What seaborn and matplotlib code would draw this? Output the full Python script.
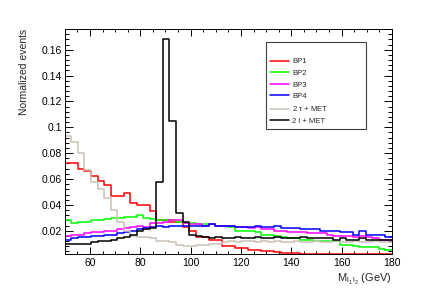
import numpy as np
import pandas as pd
import seaborn as sns
import matplotlib
matplotlib.use('Agg')
import matplotlib.pyplot as plt
from matplotlib.lines import Line2D
from matplotlib.ticker import MultipleLocator

# 50 bins between 50 and 180 GeV
bin_edges = np.linspace(50, 180, 51)
bin_centers = 0.5 * (bin_edges[:-1] + bin_edges[1:])

bp1 = [0.072, 0.072, 0.068, 0.066, 0.062, 0.0588, 0.0557, 0.047, 0.047, 0.049,
       0.0415, 0.040, 0.040, 0.035, 0.028, 0.028, 0.0265, 0.0265, 0.023, 0.020,
       0.015, 0.015, 0.013, 0.013, 0.008, 0.008, 0.0065, 0.0065, 0.005, 0.005,
       0.004, 0.004, 0.0035, 0.003, 0.0028, 0.0025, 0.0023, 0.0021, 0.002, 0.002,
       0.002, 0.002, 0.002, 0.002, 0.002, 0.002, 0.002, 0.002, 0.002, 0.002]
bp2 = [0.028, 0.026, 0.027, 0.027, 0.028, 0.028, 0.029, 0.030, 0.030, 0.031,
       0.031, 0.032, 0.030, 0.029, 0.028, 0.028, 0.028, 0.027, 0.026, 0.026,
       0.025, 0.025, 0.025, 0.024, 0.024, 0.023, 0.020, 0.020, 0.020, 0.019,
       0.017, 0.017, 0.016, 0.015, 0.014, 0.014, 0.013, 0.013, 0.012, 0.012,
       0.012, 0.0117, 0.0086, 0.0086, 0.008, 0.0074, 0.0078, 0.0072, 0.006, 0.0053]
bp3 = [0.016, 0.017, 0.017, 0.018, 0.019, 0.019, 0.020, 0.020, 0.021, 0.022,
       0.023, 0.024, 0.023, 0.026, 0.026, 0.027, 0.028, 0.028, 0.026, 0.025,
       0.025, 0.024, 0.025, 0.024, 0.024, 0.024, 0.023, 0.023, 0.022, 0.023,
       0.021, 0.021, 0.020, 0.020, 0.019, 0.019, 0.019, 0.018, 0.018, 0.018,
       0.017, 0.016, 0.016, 0.016, 0.015, 0.016, 0.015, 0.014, 0.013, 0.013]
bp4 = [0.013, 0.014, 0.015, 0.015, 0.016, 0.016, 0.017, 0.017, 0.018, 0.019,
       0.020, 0.021, 0.022, 0.023, 0.024, 0.023, 0.024, 0.024, 0.024, 0.024,
       0.024, 0.024, 0.025, 0.024, 0.024, 0.024, 0.023, 0.023, 0.023, 0.024,
       0.023, 0.023, 0.024, 0.022, 0.022, 0.022, 0.021, 0.021, 0.021, 0.020,
       0.020, 0.020, 0.019, 0.019, 0.017, 0.020, 0.017, 0.017, 0.017, 0.015]
tau_met = [0.093, 0.089, 0.080, 0.067, 0.058, 0.052, 0.045, 0.036, 0.027, 0.020,
           0.016, 0.015, 0.015, 0.014, 0.012, 0.012, 0.011, 0.009, 0.008, 0.008,
           0.009, 0.009, 0.010, 0.010, 0.011, 0.012, 0.011, 0.012, 0.012, 0.011,
           0.012, 0.011, 0.012, 0.011, 0.011, 0.012, 0.011, 0.011, 0.012, 0.011,
           0.011, 0.012, 0.011, 0.011, 0.012, 0.011, 0.011, 0.012, 0.011, 0.011]
lep_met = [0.0097, 0.0097, 0.010, 0.010, 0.011, 0.0117, 0.012, 0.013, 0.014, 0.015,
           0.017, 0.0195, 0.021, 0.022, 0.058, 0.168, 0.105, 0.034, 0.027, 0.017,
           0.016, 0.015, 0.014, 0.015, 0.014, 0.014, 0.015, 0.014, 0.014, 0.015,
           0.014, 0.014, 0.015, 0.014, 0.014, 0.0143, 0.015, 0.014, 0.014, 0.0143,
           0.014, 0.013, 0.014, 0.013, 0.013, 0.014, 0.013, 0.013, 0.013, 0.013]

labels = ['BP1', 'BP2', 'BP3', 'BP4', r'2 $\tau$ + MET', '2 l + MET']
colors = ['#ff0000', '#00ff00', '#ff00ff', '#0000ff', '#c9c1b8', '#000000']
series = [bp1, bp2, bp3, bp4, tau_met, lep_met]

sns.set_style('ticks')
plt.rcParams['font.family'] = ['Liberation Sans', 'DejaVu Sans']
plt.rcParams['mathtext.fontset'] = 'custom'
plt.rcParams['mathtext.rm'] = 'Liberation Sans'
plt.rcParams['mathtext.it'] = 'Liberation Sans'

fig = plt.figure(figsize=(4.36, 3.0), dpi=100)
ax = fig.add_axes([0.1486, 0.1533, 0.7504, 0.75])

for vals, col in zip(series, colors):
    df = pd.DataFrame({'mass': bin_centers, 'w': vals})
    sns.histplot(data=df, x='mass', weights='w', bins=list(bin_edges), element='step',
                 fill=False, color=col, linewidth=1.1, ax=ax)

ax.set_xlim(50, 180)
ax.set_ylim(0.002, 0.176)
ax.xaxis.set_major_locator(MultipleLocator(20))
ax.xaxis.set_minor_locator(MultipleLocator(5))
ax.yaxis.set_minor_locator(MultipleLocator(0.004))
ax.set_yticks([0.02, 0.04, 0.06, 0.08, 0.1, 0.12, 0.14, 0.16])
ax.set_yticklabels(['0.02', '0.04', '0.06', '0.08', '0.1', '0.12', '0.14', '0.16'])
ax.tick_params(axis='both', which='both', direction='in', top=True, right=True,
               labelsize=7.5, width=0.7, colors='black')
ax.tick_params(axis='x', which='major', length=5, pad=3)
ax.tick_params(axis='x', which='minor', length=2.5)
ax.tick_params(axis='y', which='major', length=6, pad=2)
ax.tick_params(axis='y', which='minor', length=3)
for sp in ax.spines.values():
    sp.set_linewidth(0.7)
    sp.set_color('black')

ax.set_xlabel(r'M$_{\mathregular{l_1\,l_2}}$ (GeV)', loc='right', fontsize=8, labelpad=3)
ax.set_ylabel('Normalized events', loc='top', fontsize=7.5, labelpad=9)

handles = [Line2D([], [], color=c, linewidth=1.1) for c in colors]
leg = ax.legend(handles, labels, loc='upper left', bbox_to_anchor=(0.614, 0.566, 0.306, 0.375),
                mode='expand', fontsize=5.5, title=' ', title_fontsize=5.5,
                frameon=True, fancybox=False, edgecolor='#404040', framealpha=1,
                labelspacing=0.55, handlelength=2.4, handletextpad=0.5,
                borderpad=0.6, borderaxespad=0)
leg.get_frame().set_linewidth(0.8)

fig.savefig('out.png', dpi=100)
